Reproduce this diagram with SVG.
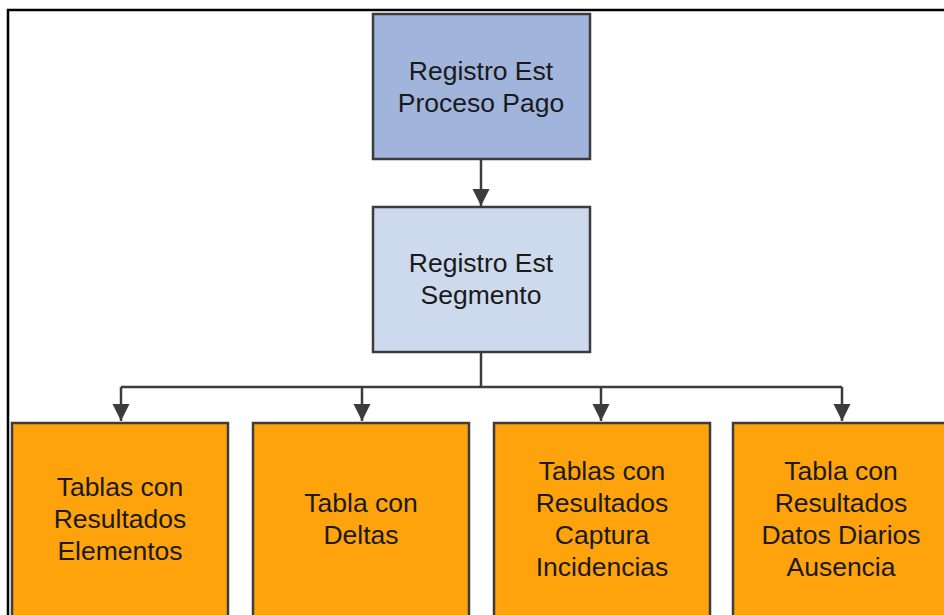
<svg xmlns="http://www.w3.org/2000/svg" width="944" height="615" viewBox="0 0 944 615">
<style>
.box{stroke:#3c3c3c;stroke-width:2.5}
.top{fill:#a0b4dc}
.mid{fill:#cddaee}
.leaf{fill:#fea30c}
.lbl{font-family:"Liberation Sans",Arial,sans-serif;font-size:26.5px;fill:#1a1a1a;text-anchor:middle}
.con{fill:none;stroke:#3c3c3c;stroke-width:2.5}
</style>
<defs>
<marker id="arr" viewBox="0 0 10 10" refX="10" refY="5" markerWidth="7" markerHeight="7" orient="auto" markerUnits="strokeWidth">
<path d="M0,0 L10,5 L0,10 z" fill="#3c3c3c"/>
</marker>
</defs>
<rect width="944" height="615" fill="#fff"/>
<path d="M8,615 V10 H944" fill="none" stroke="#000" stroke-width="2.5"/>
<g id="connectors">
<path class="con" d="M481,159 V206" marker-end="url(#arr)"/>
<path class="con" d="M481,352 V387"/>
<path class="con" d="M121,387 H842"/>
<path class="con" d="M121,387 V421" marker-end="url(#arr)"/>
<path class="con" d="M362,387 V421" marker-end="url(#arr)"/>
<path class="con" d="M601,387 V421" marker-end="url(#arr)"/>
<path class="con" d="M842,387 V421" marker-end="url(#arr)"/>
</g>
<g id="n1">
<rect class="box top" x="373" y="14" width="217" height="145"/>
<text class="lbl" x="481" y="80">Registro Est</text>
<text class="lbl" x="481" y="112">Proceso Pago</text>
</g>
<g id="n2">
<rect class="box mid" x="373" y="207" width="217" height="145"/>
<text class="lbl" x="481" y="272">Registro Est</text>
<text class="lbl" x="481" y="304">Segmento</text>
</g>
<g id="n3">
<rect class="box leaf" x="12" y="423" width="216" height="200"/>
<text class="lbl" x="120" y="496">Tablas con</text>
<text class="lbl" x="120" y="528">Resultados</text>
<text class="lbl" x="120" y="560">Elementos</text>
</g>
<g id="n4">
<rect class="box leaf" x="253" y="423" width="216" height="200"/>
<text class="lbl" x="361" y="512">Tabla con</text>
<text class="lbl" x="361" y="544">Deltas</text>
</g>
<g id="n5">
<rect class="box leaf" x="494" y="423" width="216" height="200"/>
<text class="lbl" x="602" y="480">Tablas con</text>
<text class="lbl" x="602" y="512">Resultados</text>
<text class="lbl" x="602" y="544">Captura</text>
<text class="lbl" x="602" y="576">Incidencias</text>
</g>
<g id="n6">
<rect class="box leaf" x="733" y="423" width="216" height="200"/>
<text class="lbl" x="841" y="480">Tabla con</text>
<text class="lbl" x="841" y="512">Resultados</text>
<text class="lbl" x="841" y="544">Datos Diarios</text>
<text class="lbl" x="841" y="576">Ausencia</text>
</g>
</svg>
